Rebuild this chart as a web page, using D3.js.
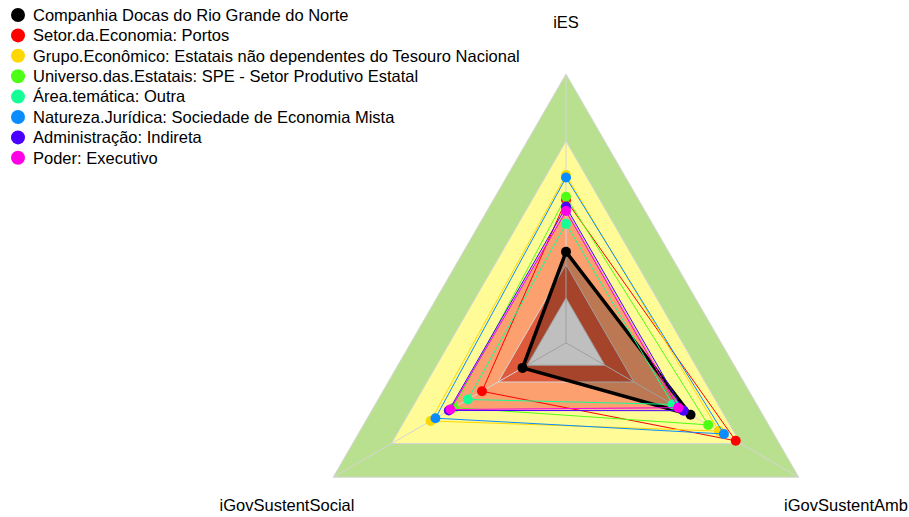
<!DOCTYPE html>
<html><head><meta charset="utf-8">
<script src="https://cdn.jsdelivr.net/npm/d3@7"></script>
<style>body{margin:0;background:#fff}svg{display:block;font-family:"Liberation Sans",Arial,sans-serif}</style>
</head><body><svg id="c" width="909" height="517"></svg>
<script>
const axes = ["iES", "iGovSustentAmb", "iGovSustentSocial"];
const seriesNames = [
  "Companhia Docas do Rio Grande do Norte",
  "Setor.da.Economia: Portos",
  "Grupo.Econômico: Estatais não dependentes do Tesouro Nacional",
  "Universo.das.Estatais: SPE - Setor Produtivo Estatal",
  "Área.temática: Outra",
  "Natureza.Jurídica: Sociedade de Economia Mista",
  "Administração: Indireta",
  "Poder: Executivo"
];
const seriesColors = ["#000000", "#FF0000", "#FFD700", "#4DFF14", "#14FF96", "#0A8CFF", "#4B00FF", "#FF00E6"];
// values per series: [iES, iGovSustentAmb, iGovSustentSocial]
const vCompanhia = [0.206, 0.442, 0.024];
const vPortos    = [0.437, 0.675, 0.233];
const vGrupo     = [0.549, 0.588, 0.498];
const vUniverso  = [0.452, 0.533, 0.379];
const vArea      = [0.331, 0.350, 0.306];
const vNatureza  = [0.538, 0.614, 0.473];
const vAdmin     = [0.407, 0.406, 0.404];
const vPoder     = [0.388, 0.379, 0.396];
const seriesValues = [vCompanhia, vPortos, vGrupo, vUniverso, vArea, vNatureza, vAdmin, vPoder];
const bandLevels = [1.0, 0.7, 0.4, 0.15, 0.0];
const bandColors = ["#B9E08E", "#FFFB96", "#FBA06E", "#DE5A3A", "#FFFFFF"];
const scaleMin = -0.2, scaleMax = 1.0;

const svg = d3.select("#c");
const cx = 566, cy = 342.8, R = 268.8;
const r = d3.scaleLinear().domain([scaleMin, scaleMax]).range([0, R]);
const ang = a => ({"iES": -90, "iGovSustentAmb": 30, "iGovSustentSocial": 150})[a] * Math.PI / 180;
const pt = (a, v) => [cx + r(v) * Math.cos(ang(a)), cy + r(v) * Math.sin(ang(a))];
const line = d3.line().curve(d3.curveLinearClosed);

// bands
svg.append("g").selectAll("path").data(bandLevels).join("path")
  .attr("d", lv => line(axes.map(a => pt(a, lv))))
  .attr("fill", (lv, i) => bandColors[i])
  .attr("stroke", "#D6D6D6").attr("stroke-width", 1);

// axis lines
svg.append("g").selectAll("line").data(axes).join("line")
  .attr("x1", cx).attr("y1", cy)
  .attr("x2", a => pt(a, scaleMax)[0]).attr("y2", a => pt(a, scaleMax)[1])
  .attr("stroke", "#D6D6D6").attr("stroke-width", 1);

// series
seriesValues.forEach((vals, i) => {
  const pts = axes.map((a, j) => pt(a, vals[j]));
  const g = svg.append("g");
  g.append("path").attr("d", line(pts))
    .attr("fill", i === 0 ? "rgba(0,0,0,0.25)" : "none")
    .attr("stroke", seriesColors[i])
    .attr("stroke-width", i === 0 ? 3.5 : 1)
    .attr("stroke-linejoin", "round");
  g.selectAll("circle").data(pts).join("circle")
    .attr("cx", d => d[0]).attr("cy", d => d[1])
    .attr("r", 5).attr("fill", seriesColors[i]);
});

// axis labels
const labelPos = {"iES": [566, 28], "iGovSustentAmb": [846, 511], "iGovSustentSocial": [287, 511]};
svg.append("g").selectAll("text").data(axes).join("text")
  .attr("x", a => labelPos[a][0]).attr("y", a => labelPos[a][1])
  .attr("text-anchor", "middle").attr("font-size", 16.5).attr("fill", "#000")
  .text(a => a);

// legend
const lg = svg.append("g");
seriesNames.forEach((n, i) => {
  const y = 15 + i * 20.4;
  lg.append("circle").attr("cx", 18).attr("cy", y).attr("r", 7).attr("fill", seriesColors[i]);
  lg.append("text").attr("x", 33).attr("y", y + 5.8).attr("font-size", 16.5).attr("fill", "#000").text(n);
});
</script></body></html>
